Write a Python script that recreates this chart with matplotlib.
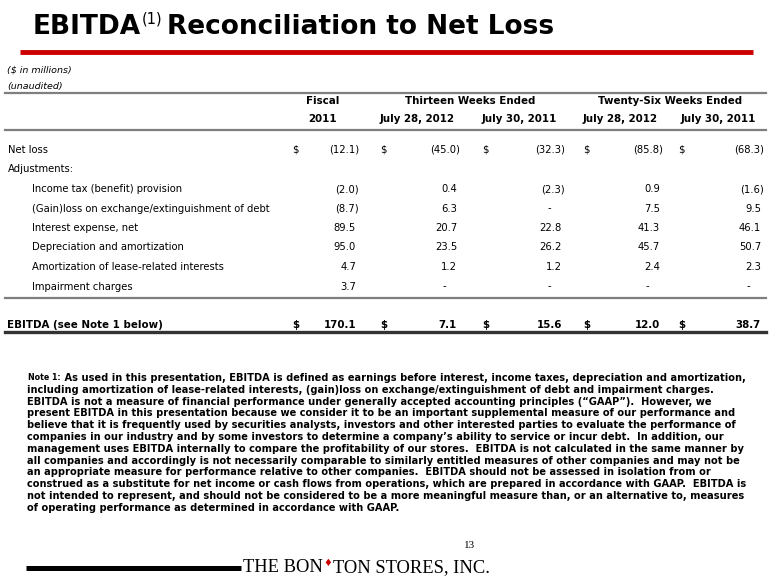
import matplotlib
matplotlib.use("Agg")
import matplotlib.pyplot as plt

# table data ($ in millions)
row_labels = ["Net loss", "Adjustments:", "Income tax (benefit) provision",
              "(Gain)loss on exchange/extinguishment of debt", "Interest expense, net",
              "Depreciation and amortization", "Amortization of lease-related interests",
              "Impairment charges"]
indented = [False, False, True, True, True, True, True, True]

fiscal_2011 = [-12.1, None, -2.0, -8.7, 89.5, 95.0, 4.7, 3.7]
wk13_2012 = [-45.0, None, 0.4, 6.3, 20.7, 23.5, 1.2, 0.0]
wk13_2011 = [-32.3, None, -2.3, 0.0, 22.8, 26.2, 1.2, 0.0]
wk26_2012 = [-85.8, None, 0.9, 7.5, 41.3, 45.7, 2.4, 0.0]
wk26_2011 = [-68.3, None, -1.6, 9.5, 46.1, 50.7, 2.3, 0.0]
ebitda = [170.1, 7.1, 15.6, 12.0, 38.7]

group_headers = ["Fiscal", "Thirteen Weeks Ended", "Twenty-Six Weeks Ended"]
col_headers = ["2011", "July 28, 2012", "July 30, 2011", "July 28, 2012", "July 30, 2011"]

note_lines = [
    "As used in this presentation, EBITDA is defined as earnings before interest, income taxes, depreciation and amortization,",
    "including amortization of lease-related interests, (gain)loss on exchange/extinguishment of debt and impairment charges.",
    "EBITDA is not a measure of financial performance under generally accepted accounting principles (\u201cGAAP\u201d).  However, we",
    "present EBITDA in this presentation because we consider it to be an important supplemental measure of our performance and",
    "believe that it is frequently used by securities analysts, investors and other interested parties to evaluate the performance of",
    "companies in our industry and by some investors to determine a company\u2019s ability to service or incur debt.  In addition, our",
    "management uses EBITDA internally to compare the profitability of our stores.  EBITDA is not calculated in the same manner by",
    "all companies and accordingly is not necessarily comparable to similarly entitled measures of other companies and may not be",
    "an appropriate measure for performance relative to other companies.  EBITDA should not be assessed in isolation from or",
    "construed as a substitute for net income or cash flows from operations, which are prepared in accordance with GAAP.  EBITDA is",
    "not intended to represent, and should not be considered to be a more meaningful measure than, or an alternative to, measures",
    "of operating performance as determined in accordance with GAAP.",
]

columns = [fiscal_2011, wk13_2012, wk13_2011, wk26_2012, wk26_2011]

fig = plt.figure(figsize=(7.8, 5.85), dpi=100)
ax = fig.add_axes([0, 0, 1, 1])
ax.set_xlim(0, 780)
ax.set_ylim(585, 0)
ax.axis("off")
renderer = fig.canvas.get_renderer()


def width_of(t):
    return t.get_window_extent(renderer).width


def after(t, s, y, gap=0, **kw):
    x0 = t.get_position()[0] + width_of(t) + gap
    return ax.text(x0, y, s, **kw)


# title
tfs = 19
t1 = ax.text(33, 34, "EBITDA", fontsize=tfs, fontweight="bold", va="baseline")
t2 = after(t1, "(1)", 23, gap=1, fontsize=10.5, va="baseline")
t3 = after(t2, "Reconciliation to Net Loss", 34, gap=4, fontsize=tfs, fontweight="bold",
           va="baseline")
ax.plot([20, 753], [51.5, 51.5], color="#cc0000", lw=3.5, solid_capstyle="butt")

ax.text(7, 70, "($ in millions)", fontsize=6.8, style="italic", va="center")
ax.text(7, 86, "(unaudited)", fontsize=6.8, style="italic", va="center")

gray = "#7f7f7f"
for yy in (93, 130, 298):
    ax.plot([5, 766], [yy, yy], color=gray, lw=1.6)
ax.plot([5, 766], [332, 332], color="#333333", lw=2.4)

# headers
hdr = dict(fontsize=7.4, fontweight="bold", ha="center", va="center")
ax.text(323, 101, group_headers[0], **hdr)
ax.text(470, 101, group_headers[1], **hdr)
ax.text(670, 101, group_headers[2], **hdr)
for xc, s in zip([323, 417, 519, 620, 718], col_headers):
    ax.text(xc, 119, s, **hdr)

right_edges = [359, 460, 565, 663, 764]
dollar_x = [292, 380, 482, 583, 678]
row_y = [150, 169.5, 189, 208.5, 228, 247.5, 267, 286.5]
body = dict(fontsize=7.2, va="center")


def fmt(v):
    if v < 0:
        return "(%.1f)" % -v, 0
    if v == 0:
        return "-", 14
    return "%.1f" % v, 3


for i, (lab, ind) in enumerate(zip(row_labels, indented)):
    ax.text(32 if ind else 8, row_y[i], lab, **body)
    for c, col in enumerate(columns):
        v = col[i]
        if v is None:
            continue
        s, off = fmt(v)
        ax.text(right_edges[c] - off, row_y[i], s, ha="right", **body)
        if i == 0:
            ax.text(dollar_x[c], row_y[i], "$", **body)

ax.text(7, 325, "EBITDA (see Note 1 below)", fontsize=7.4, fontweight="bold", va="center")
for c, v in enumerate(ebitda):
    s, off = fmt(v)
    ax.text(right_edges[c] - off, 325, s, ha="right", fontsize=7.4, fontweight="bold", va="center")
    ax.text(dollar_x[c], 325, "$", fontsize=7.4, fontweight="bold", va="center")

# note, sized to the reference line width
note_fs = 7.0
probe = ax.text(0, 0, note_lines[4], fontsize=note_fs, fontweight="bold")
note_fs = note_fs * 712 / width_of(probe)
probe.remove()
ny = 378
n0 = ax.text(28, ny, "Note 1:", fontsize=note_fs * 0.8, fontweight="bold", va="center")
after(n0, " " + note_lines[0], ny, fontsize=note_fs, fontweight="bold", va="center")
for k, line in enumerate(note_lines[1:], start=1):
    ax.text(27, ny + k * 11.8, line, fontsize=note_fs, fontweight="bold", va="center")

# footer logo
ax.plot([26, 241], [568, 568], color="black", lw=3.6, solid_capstyle="butt")
lfs = 13.3
serif = dict(fontsize=lfs, family="Liberation Serif", va="baseline")
l1 = ax.text(243, 572, "THE BON", **serif)
l2 = after(l1, "\u2666", 566, gap=0.5, fontsize=7, color="#cc0000", va="baseline")
after(l2, "TON STORES, INC.", 572, gap=0.5, **serif)
ax.text(470, 546, "13", fontsize=8, family="Liberation Serif", ha="center", va="center")

fig.savefig("out.png", dpi=100)
